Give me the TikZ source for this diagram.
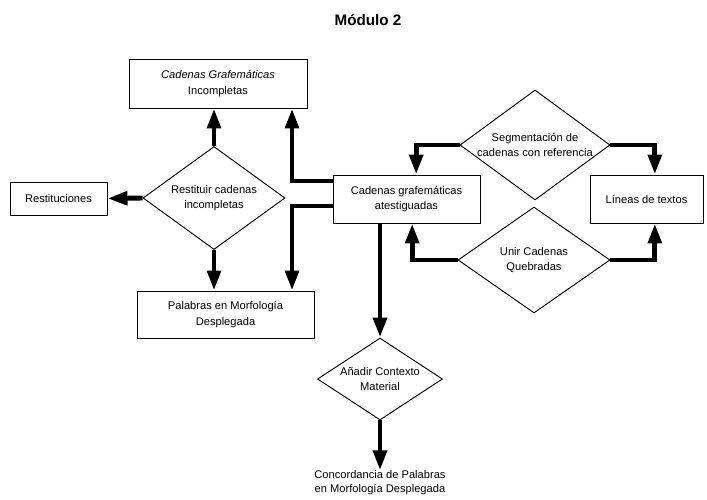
\documentclass[tikz,border=0pt]{standalone}
\usepackage{fontspec}
\setmainfont{Liberation Sans}
\usetikzlibrary{shapes.geometric,arrows.meta,positioning}
\begin{document}
\begin{tikzpicture}[x=0.03cm,y=-0.03cm,
  box/.style={draw, rectangle, line width=0.8pt, align=center, font=\fontsize{9.5}{13}\selectfont, inner sep=2pt},
  decision/.style={draw, diamond, line width=0.8pt, align=center, font=\fontsize{9.5}{13}\selectfont, inner sep=0pt},
  flow/.style={line width=4.2pt, -{Triangle[length=0.6cm,width=0.4cm]}}]
\useasboundingbox (0,0) rectangle (707,499);
\node(title) at (368,20) {\fontsize{13}{15}\selectfont\bfseries Módulo 2};
\node(inc) at (218,83.5) [box, minimum width=5.34cm, minimum height=1.47cm]{\textit{Cadenas Grafemáticas}\\Incompletas};
\node(res) at (214,198) [decision, aspect=1.38, minimum width=4.26cm, minimum height=3.09cm]{Restituir cadenas\\incompletas};
\node(rest) at (58.5,198.5) [box, minimum width=2.91cm, minimum height=0.99cm]{Restituciones};
\node(pal) at (225.5,314.5) [box, minimum width=5.31cm, minimum height=1.41cm]{Palabras en Morfología\\Desplegada};
\node(ate) at (406.5,199) [box, minimum width=4.41cm, minimum height=1.44cm]{Cadenas grafemáticas\\atestiguadas};
\node(seg) at (535,145) [decision, aspect=1.36, minimum width=4.5cm, minimum height=3.3cm]{Segmentación de\\cadenas con referencia};
\node(uni) at (534,260) [decision, aspect=1.43, minimum width=4.56cm, minimum height=3.18cm]{Unir Cadenas\\Quebradas};
\node(lin) at (646.5,199) [box, minimum width=3.39cm, minimum height=1.44cm]{Líneas de textos};
\node(add) at (380,379) [decision, aspect=1.52, minimum width=3.75cm, minimum height=2.46cm]{Añadir Contexto\\Material};
\node(conc) [below=1.5cm of add, align=center, inner sep=0pt, font=\fontsize{9.5}{12}\selectfont]{Concordancia de Palabras\\en Morfología Desplegada};
% restituir
\draw[flow] (res.north) to (res.north |- inc.south);
\draw[flow] (res.west) to (rest.east);
\draw[flow] (res.south) to (res.south |- pal.north);
% atestiguadas
\draw[flow] ([yshift=0.54cm]ate.west) -| (292,0 |- inc.south);
\draw[flow] ([yshift=-0.21cm]ate.west) -| (292,0 |- pal.north);
\draw[flow] (add.north |- ate.south) to (add.north);
\draw[flow] (add.south) to (conc.north);
% segmentacion y union
\draw[flow] (seg.west) -| ([xshift=0.29cm]ate.north);
\draw[flow] (seg.east) -| ([xshift=0.25cm]lin.north);
\draw[flow] (uni.west) -| ([xshift=0.17cm]ate.south);
\draw[flow] (uni.east) -| ([xshift=0.25cm]lin.south);
\end{tikzpicture}
\end{document}
